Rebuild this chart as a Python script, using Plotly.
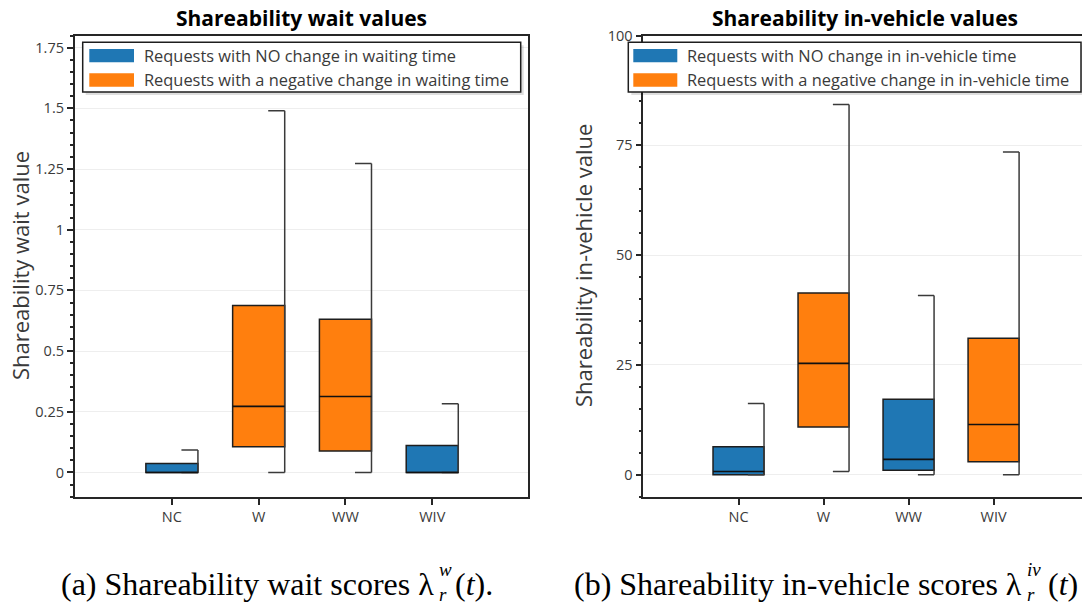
import plotly.graph_objects as go

# ---------------------------------------------------------------- data
categories = ["NC", "W", "WW", "WIV"]

# Box statistics of the shareability wait values
wait_lower = [0.0, 0.0, 0.0, 0.0]
wait_q1 = [0.0, 0.106, 0.088, 0.0]
wait_median = [0.0, 0.272, 0.313, 0.0]
wait_q3 = [0.037, 0.688, 0.631, 0.111]
wait_upper = [0.092, 1.490, 1.273, 0.283]
wait_group = ["none", "negative", "negative", "none"]

# Box statistics of the shareability in-vehicle values
iv_lower = [0.0, 0.75, 0.0, 0.0]
iv_q1 = [0.0, 10.85, 1.05, 2.95]
iv_median = [0.75, 25.35, 3.5, 11.45]
iv_q3 = [6.4, 41.4, 17.2, 31.1]
iv_upper = [16.2, 84.3, 40.8, 73.5]
iv_group = ["none", "negative", "none", "negative"]

wait_legend = ["Requests with NO change in waiting time",
               "Requests with a negative change in waiting time"]
iv_legend = ["Requests with NO change in in-vehicle time",
             "Requests with a negative change in in-vehicle time"]

# ---------------------------------------------------------------- style
W, H = 1082, 607
BLUE = "#1f77b4"
ORANGE = "#ff7f0e"
COLORS = {"none": BLUE, "negative": ORANGE}
EDGE = "#1e1e1e"
WHISKER = "#3a3a3a"
AXIS = "#262626"
GRID = "#eeeeee"
TXT = "#3a3a3a"
UI_FONT = "Open Sans"
CAP_FONT = "Liberation Serif"
BOX_W = 0.6
CAP_FROM = 0.11


def px(x):
    return x / W


def py(y):
    return 1 - y / H


positions = [i + 1 for i in range(len(categories))]

fig = go.Figure()


def add_boxes(xa, ya, lower, q1, med, q3, upper, group):
    half = BOX_W / 2
    # whiskers: vertical stem on the right edge of the box plus a short cap
    wx, wy = [], []
    for p, lo, hi in zip(positions, lower, upper):
        wx += [p + half, p + half, None, p + CAP_FROM, p + half, None,
               p + CAP_FROM, p + half, None]
        wy += [lo, hi, None, hi, hi, None, lo, lo, None]
    fig.add_trace(go.Scatter(x=wx, y=wy, mode="lines", xaxis=xa, yaxis=ya,
                             line=dict(color=WHISKER, width=1.5),
                             showlegend=False, hoverinfo="skip"))
    # interquartile boxes
    for key in ["none", "negative"]:
        idx = [i for i, g in enumerate(group) if g == key]
        fig.add_trace(go.Bar(
            x=[positions[i] for i in idx],
            y=[q3[i] - q1[i] for i in idx],
            base=[q1[i] for i in idx],
            width=BOX_W, xaxis=xa, yaxis=ya,
            marker=dict(color=COLORS[key], line=dict(color=EDGE, width=1.5)),
            showlegend=False))
    # medians
    mx, my = [], []
    for p, m in zip(positions, med):
        mx += [p - half, p + half, None]
        my += [m, m, None]
    fig.add_trace(go.Scatter(x=mx, y=my, mode="lines", xaxis=xa, yaxis=ya,
                             line=dict(color="#111111", width=1.6),
                             showlegend=False, hoverinfo="skip"))


add_boxes("x", "y", wait_lower, wait_q1, wait_median, wait_q3, wait_upper, wait_group)
add_boxes("x2", "y2", iv_lower, iv_q1, iv_median, iv_q3, iv_upper, iv_group)

y_dom = [py(496.7), py(35.5)]

xaxis_common = dict(
    tickmode="array", tickvals=positions, ticktext=categories,
    ticks="outside", ticklen=6, tickwidth=1.5, tickcolor=AXIS,
    showline=True, linecolor=AXIS, linewidth=1.6,
    showgrid=False, zeroline=False, automargin=False,
    tickfont=dict(family=UI_FONT, size=14.5, color=TXT),
)
yaxis_common = dict(
    ticks="outside", ticklen=6, tickwidth=1.5, tickcolor=AXIS,
    showline=True, linecolor=AXIS, linewidth=1.6,
    showgrid=True, gridcolor=GRID, gridwidth=1, zeroline=False, automargin=False,
    tickfont=dict(family=UI_FONT, size=14.5, color=TXT),
)

fig.update_layout(
    width=W, height=H,
    margin=dict(l=0, r=0, t=0, b=0, autoexpand=False),
    paper_bgcolor="white", plot_bgcolor="white",
    barmode="overlay", showlegend=False,
    xaxis=dict(domain=[px(74.7), px(527.7)], range=[-0.12, 5.1],
               mirror=True, anchor="y", **xaxis_common),
    yaxis=dict(domain=y_dom, range=[-0.1, 1.8], dtick=0.25, tick0=0,
               mirror=True, anchor="x",
               minor=dict(dtick=0.05, ticks="outside", ticklen=3,
                          tickcolor=AXIS, showgrid=False),
               **yaxis_common),
    xaxis2=dict(domain=[px(643.3), 1.0], range=[-0.12, 5.04],
                mirror=True, anchor="y2", **xaxis_common),
    yaxis2=dict(domain=y_dom, range=[-5, 100], dtick=25, tick0=0,
                mirror=False, anchor="x2",
                minor=dict(dtick=5, ticks="outside", ticklen=3,
                           tickcolor=AXIS, showgrid=False),
                **yaxis_common),
)

shapes = []
annotations = []


def add_legend(x0, x1, sw0, sw1, tx, labels):
    y0, y1 = 42.3, 92.0
    # drop shadow, frame
    shapes.append(dict(type="rect", xref="paper", yref="paper",
                       x0=px(x0 + 3), x1=px(x1 + 3), y0=py(y1 + 3), y1=py(y0 + 3),
                       line=dict(width=0), fillcolor="rgba(0,0,0,0.13)", layer="above"))
    shapes.append(dict(type="rect", xref="paper", yref="paper",
                       x0=px(x0), x1=px(x1), y0=py(y1), y1=py(y0),
                       line=dict(color=EDGE, width=1.5), fillcolor="white", layer="above"))
    for (s0, s1, cy), lab, col in zip([(49.0, 62.3, 55.8), (73.3, 86.7, 80.0)],
                                      labels, [BLUE, ORANGE]):
        shapes.append(dict(type="rect", xref="paper", yref="paper",
                           x0=px(sw0), x1=px(sw1), y0=py(s1), y1=py(s0),
                           line=dict(width=0), fillcolor=col, layer="above"))
        annotations.append(dict(xref="paper", yref="paper", x=px(tx), y=py(cy),
                                xanchor="left", yanchor="middle", showarrow=False,
                                text=lab, font=dict(family=UI_FONT, size=16.4, color=TXT)))


add_legend(82.7, 520.7, 89.3, 134.0, 141.5, wait_legend)
add_legend(628.3, 1081.0, 633.3, 677.3, 685.0, iv_legend)

# panel titles
for cx, t in [(301.2, "Shareability wait values"), (864.6, "Shareability in-vehicle values")]:
    annotations.append(dict(xref="paper", yref="paper", x=px(cx), y=py(18),
                            xanchor="center", yanchor="middle", showarrow=False,
                            text="<b>%s</b>" % t,
                            font=dict(family=UI_FONT, size=21, color="black")))

# axis titles
for cx, t in [(20, "Shareability wait value"), (583, "Shareability in-vehicle value")]:
    annotations.append(dict(xref="paper", yref="paper", x=px(cx), y=py(266),
                            xanchor="center", yanchor="middle", showarrow=False,
                            textangle=-90, text=t,
                            font=dict(family=UI_FONT, size=22, color=TXT)))


# sub-figure captions: head ending in lambda, stacked scripts, then the "(t)" tail
def add_caption(lam_end, head, sup, sub, tail_x, tail, tail_anchor):
    cy = 584
    annotations.append(dict(xref="paper", yref="paper", x=px(lam_end), y=py(cy),
                            xanchor="right", yanchor="middle", showarrow=False,
                            text=head, font=dict(family=CAP_FONT, size=32, color="black")))
    annotations.append(dict(xref="paper", yref="paper", x=px(lam_end + 2), y=py(cy - 2.5),
                            xanchor="left", yanchor="middle", showarrow=False,
                            align="left", borderpad=0,
                            text="<i>%s</i><br><i>%s</i>" % (sup, sub),
                            font=dict(family=CAP_FONT, size=19, color="black")))
    annotations.append(dict(xref="paper", yref="paper", x=px(tail_x), y=py(cy),
                            xanchor=tail_anchor, yanchor="middle", showarrow=False,
                            text=tail, font=dict(family=CAP_FONT, size=32, color="black")))


add_caption(436, "(a) Shareability wait scores λ", "w", "r", 453, "(<i>t</i>).", "left")
add_caption(1024, "(b) Shareability in-vehicle scores λ", "iv", "r", 1080, "(<i>t</i>)", "right")

fig.update_layout(shapes=shapes, annotations=annotations)

fig.write_html("out.html")
